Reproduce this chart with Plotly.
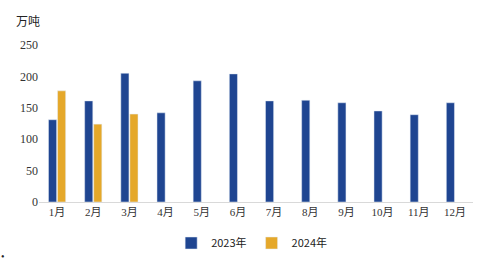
import plotly.graph_objects as go

months = ["1月", "2月", "3月", "4月", "5月", "6月", "7月", "8月", "9月", "10月", "11月", "12月"]
s2023 = [131, 161, 205, 142, 193, 204, 161, 162, 158, 145, 139, 158]
s2024 = [177, 124, 140, None, None, None, None, None, None, None, None, None]
y_ticks = [0, 50, 100, 150, 200, 250]

fig = go.Figure()
fig.add_trace(go.Bar(x=months, y=s2023, name="2023年", marker_color="#1F4591"))
fig.add_trace(go.Bar(x=months, y=s2024, name="2024年", marker_color="#E5A82A"))

fig.update_layout(
    width=492, height=265,
    margin=dict(l=39, r=19, t=45, b=63, autoexpand=False),
    paper_bgcolor="white", plot_bgcolor="white",
    barmode="group", bargap=0.5, bargroupgap=0.1,
    showlegend=True,
    legend=dict(orientation="h", x=0.49, xanchor="center",
                yref="container", y=0.083, yanchor="middle",
                font=dict(family="Noto Sans CJK SC", size=11, color="#222"),
                itemwidth=30, traceorder="normal"),
    font=dict(family="Liberation Serif, Noto Serif CJK SC, serif", size=11, color="#333"),
)
fig.update_xaxes(showline=True, linecolor="#D9D9D9", linewidth=1, ticks="",
                 tickfont=dict(family="Liberation Serif, Noto Sans CJK SC", size=11, color="#333"))
fig.update_yaxes(range=[0, 250], tickvals=y_ticks, showgrid=False, zeroline=False,
                 showline=False, ticks="",
                 tickfont=dict(family="Liberation Serif", size=12, color="#333"))
fig.add_annotation(text="万吨", xref="paper", yref="paper", x=-0.025, y=1.159,
                   xanchor="center", yanchor="middle", showarrow=False,
                   font=dict(family="Noto Sans CJK SC", size=12, color="#222"))
fig.add_annotation(text="•", xref="paper", yref="paper", x=-0.083, y=-0.35,
                   xanchor="center", yanchor="middle", showarrow=False,
                   font=dict(size=10, color="#222"))
fig.write_html("out.html")
